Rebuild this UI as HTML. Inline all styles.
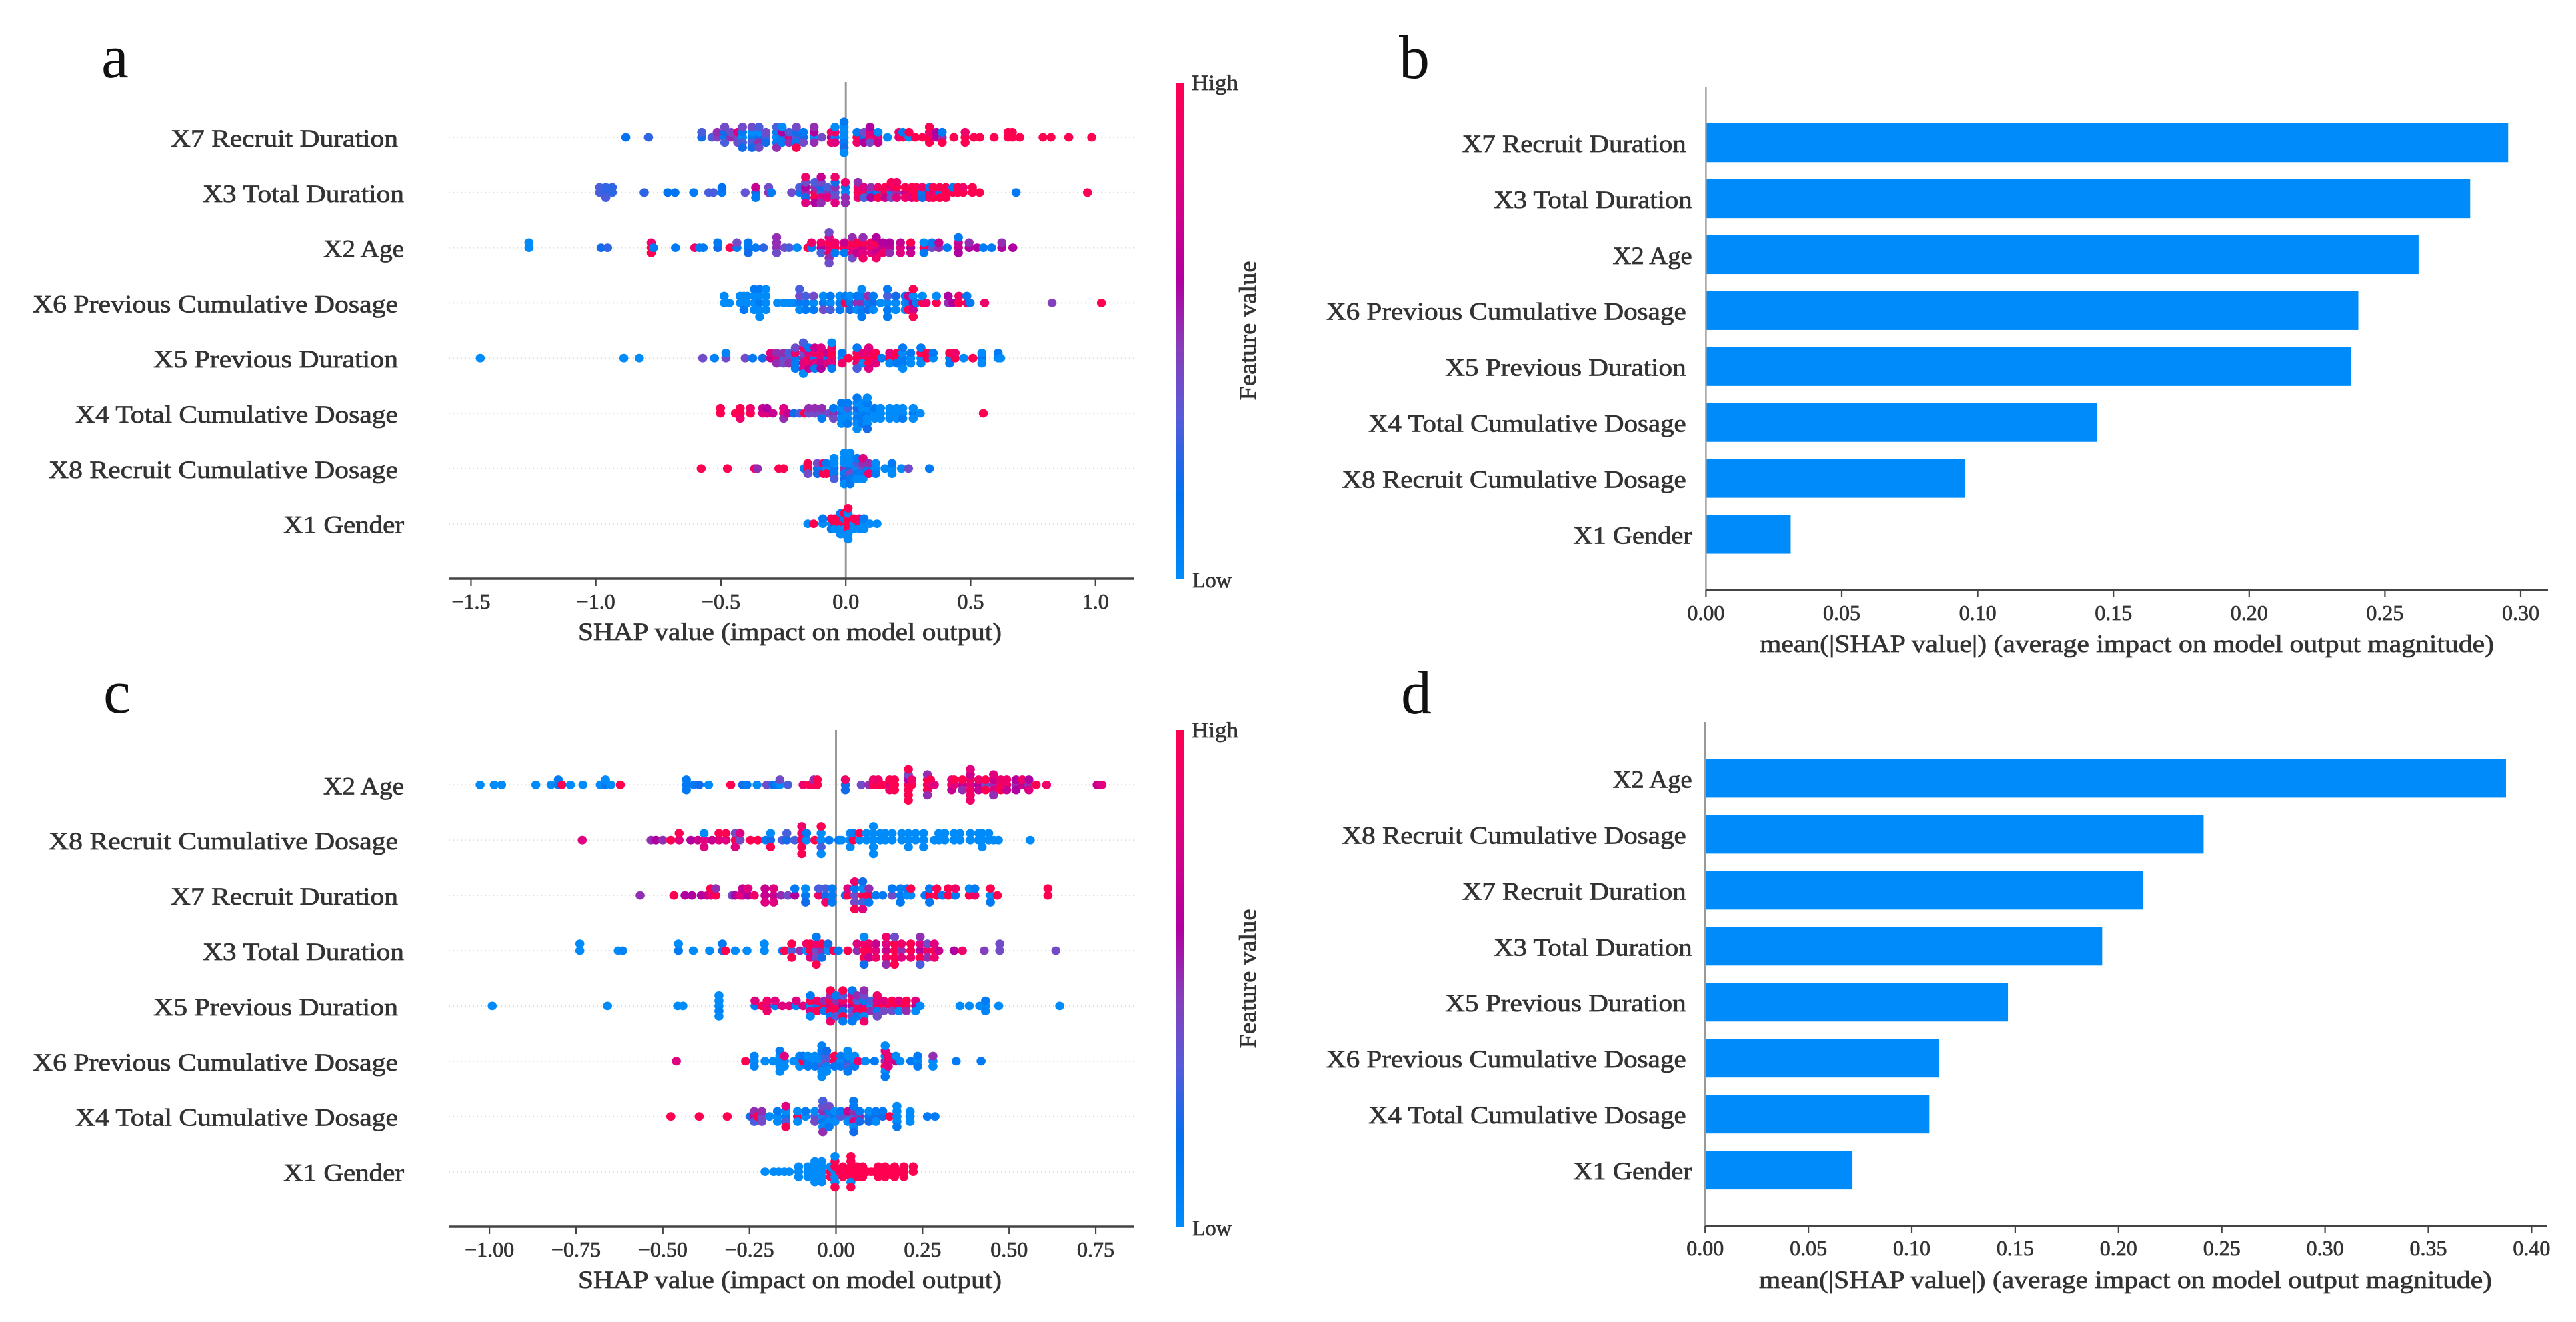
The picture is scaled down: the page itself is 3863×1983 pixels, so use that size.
<!DOCTYPE html>
<html lang="en">
<head>
<meta charset="utf-8">
<title>SHAP summary plots</title>
<style>
html,body{margin:0;padding:0;background:#fff;}
svg{display:block;}
text{font-family:"Liberation Serif",serif;fill:#333;}
.lab{stroke:#333;stroke-width:.75;}
</style>
</head>
<body>
<svg id="figure" xmlns="http://www.w3.org/2000/svg" width="3863" height="1983" viewBox="0 0 3863 1983">
<defs>
<linearGradient id="shapGrad" x1="0" y1="1" x2="0" y2="0">
<stop offset="0" stop-color="#008bfb"/>
<stop offset=".17" stop-color="#0070f0"/>
<stop offset=".33" stop-color="#5a5ad8"/>
<stop offset=".47" stop-color="#8a3cb8"/>
<stop offset=".6" stop-color="#b000a0"/>
<stop offset=".8" stop-color="#e00080"/>
<stop offset="1" stop-color="#ff0051"/>
</linearGradient>
</defs>
</svg>
<script>
// ---------- category labels ----------
const categoriesA = ["X7 Recruit Duration","X3 Total Duration","X2 Age","X6 Previous Cumulative Dosage","X5 Previous Duration","X4 Total Cumulative Dosage","X8 Recruit Cumulative Dosage","X1 Gender"];
const categoriesC = ["X2 Age","X8 Recruit Cumulative Dosage","X7 Recruit Duration","X3 Total Duration","X5 Previous Duration","X6 Previous Cumulative Dosage","X4 Total Cumulative Dosage","X1 Gender"];
// ---------- bar values ----------
const valuesB = [0.2954,0.2814,0.2624,0.2402,0.2376,0.1439,0.0954,0.0312];
const valuesD = [0.3876,0.2412,0.2117,0.1921,0.1465,0.1131,0.1085,0.0713];
// ---------- tick values ----------
const ticksA = [-1.5,-1,-0.5,0,0.5,1];
const tickLabelsA = ["\u22121.5","\u22121.0","\u22120.5","0.0","0.5","1.0"];
const ticksC = [-1,-0.75,-0.5,-0.25,0,0.25,0.5,0.75];
const tickLabelsC = ["\u22121.00","\u22120.75","\u22120.50","\u22120.25","0.00","0.25","0.50","0.75"];
const ticksB = [0,0.05,0.1,0.15,0.2,0.25,0.3];
const tickLabelsB = ["0.00","0.05","0.10","0.15","0.20","0.25","0.30"];
const ticksD = [0,0.05,0.1,0.15,0.2,0.25,0.3,0.35,0.4];
const tickLabelsD = ["0.00","0.05","0.10","0.15","0.20","0.25","0.30","0.35","0.40"];
// ---------- beeswarm series: [shap value, [feature values of points stacked in that bin]] ----------
const swarmA_X7 = [[-.88,[.15]],[-.79,[.25]],[-.577,[.2,.3]],[-.536,[.3]],[-.515,[.45,.5]],[-.485,[.1,.2,.3,.4]],[-.46,[.5,.4]],[-.433,[.4,.8,.4]],[-.414,[0,.1,.3,.4,.2]],[-.376,[.1,0,.3,.4,.2]],[-.348,[.2,0,.5,.3,.4]],[-.32,[.3,.4,.2]],[-.277,[0,.1,.1,.3,.5]],[-.255,[.1,.6,.1,0]],[-.227,[.8,.3,.5]],[-.198,[.3,.2,.1,.4,1]],[-.17,[.2,.1,.4]],[-.127,[0,.6,.5,.5]],[-.096,[.4]],[-.058,[.6,.9,.9]],[-.043,[.1,.9,.8,0]],[-.007,[0,0,.1,0,.2,.1,0]],[.045,[1,.1,.9]],[.073,[.2,.4,.6]],[.097,[.9,.8,.4,.6]],[.129,[.8,0,.7]],[.167,[0]],[.213,[.8,.9]],[.228,[1,.1]],[.253,[0,1]],[.279,[1]],[.307,[1]],[.335,[1,.9,1,1]],[.363,[.6,.6]],[.386,[.5,.1,1]],[.433,[1]],[.478,[1,.9,1]],[.513,[1]],[.537,[1]],[.594,[1]],[.65,[1,1]],[.667,[1,1]],[.697,[1]],[.79,[1]],[.822,[1]],[.893,[1]],[.985,[1]]];
const swarmA_X3 = [[-.985,[.3,.3]],[-.96,[.25,.25,.3]],[-.934,[.25,.25]],[-.807,[.25]],[-.713,[.15]],[-.684,[.15]],[-.609,[.1]],[-.549,[.3]],[-.53,[.3]],[-.496,[.1,.15]],[-.403,[.35]],[-.361,[.2,.7,.1]],[-.309,[.5,.4]],[-.298,[.1]],[-.217,[.4]],[-.185,[.1,.3]],[-.161,[.5,.6,.2,.4,.8,.9]],[-.124,[.9,.5,1,.3,.6]],[-.099,[.3,.2,.8,.4,.5,.7]],[-.073,[.5,.3,.8]],[-.043,[.3,.5,.4,.2,.8,.9]],[-.002,[0,.1,.5,.9,.5]],[.049,[1,.9,.9,.5]],[.073,[1,.8,.3]],[.101,[.2,.5,.6]],[.129,[.1,.9,1]],[.157,[1,1,.7]],[.182,[.1,.8,.4,1]],[.204,[.5,1,.8,.9]],[.238,[.7,1,.9]],[.264,[1,1,.8]],[.283,[1,1,1]],[.307,[.1,.9,.2]],[.335,[1,.1,.9]],[.35,[.8,1,1]],[.376,[.1,1,1]],[.401,[1,1,1]],[.429,[1,.1]],[.448,[1,1]],[.47,[1,.9]],[.507,[1,1]],[.536,[1]],[.682,[.1]],[.968,[1]]];
const swarmA_X2 = [[-1.268,[0,0]],[-.979,[.2]],[-.953,[.25]],[-.779,[1,.9,1]],[-.77,[.1]],[-.682,[.1]],[-.605,[.9]],[-.586,[.1]],[-.571,[.1]],[-.513,[.2,.1]],[-.464,[1]],[-.436,[.1,.4]],[-.391,[.1,.1,.2]],[-.361,[.1]],[-.33,[.25]],[-.277,[.5,.5,.4,.5]],[-.245,[.4]],[-.227,[.3]],[-.195,[0]],[-.152,[1]],[-.137,[.1,.9]],[-.099,[.6,.9,.3]],[-.067,[.8,1,.9,.8,.5,.4,.4]],[-.043,[1,.9,.1]],[-.006,[1,.7,.1]],[.026,[.9,1,.8,.5,.4]],[.045,[.9,1,.7]],[.069,[.7,1,.8,.5,.9]],[.101,[1,.9,.8]],[.122,[.8,1,.7,.6,.9]],[.148,[.7,.6,.9]],[.176,[.7,.6,.5]],[.219,[.8,.7,.8]],[.26,[.6,1,.7]],[.313,[1,0,.1]],[.345,[.4,.1]],[.373,[.5,.7]],[.406,[.1]],[.451,[.7,.7,.6,.1]],[.494,[.6,.5]],[.526,[.6]],[.551,[.1]],[.584,[.1]],[.625,[.6,.5]],[.669,[.6]]];
const swarmA_X6 = [[-.487,[0,0]],[-.466,[0]],[-.423,[0,0]],[-.408,[0,0,.1]],[-.395,[0,0]],[-.367,[0,0,0,.1]],[-.345,[.1,0,0,.1,0]],[-.32,[0,0,0,0]],[-.273,[0]],[-.249,[0]],[-.227,[0]],[-.208,[0]],[-.185,[.1,.4,0,.3]],[-.161,[.1,.3,.1]],[-.129,[0,.4,.1]],[-.09,[.1,0,.4]],[-.062,[0,.1,.3]],[-.024,[.1,0,.1]],[-.002,[1,.1]],[.017,[.1,0,.2]],[.045,[.5,.1,0]],[.064,[.5,.1,.1,0,.1]],[.088,[.1,.5,.2]],[.11,[.2,.1,0]],[.139,[0]],[.167,[0,.3,.1,.1,.1]],[.2,[0,.2,0]],[.238,[0,.1,0]],[.251,[.1,.7,1]],[.27,[.6,0,.7,1,1]],[.283,[.1]],[.307,[1,0]],[.322,[.9]],[.363,[1,0]],[.41,[.5,.6]],[.429,[.6]],[.453,[1,.9]],[.485,[.9,.1]],[.498,[.1]],[.556,[.9]],[.826,[.45]],[1.024,[1]]];
const swarmA_X5 = [[-1.463,[0]],[-.888,[0]],[-.826,[0]],[-.573,[.4]],[-.526,[.05]],[-.48,[.4,.05]],[-.403,[.4]],[-.373,[.1]],[-.333,[.2]],[-.301,[.7,.8]],[-.277,[.8,.5,.5]],[-.249,[.3,.5,.4]],[-.227,[.4,.3,.5]],[-.202,[.1,.9,.1,.4,.1]],[-.17,[.5,.4,.8,.9,.8,.3,0]],[-.148,[1,.8,.9,.1,.7]],[-.124,[.1,.9,.8,.7,.1]],[-.099,[.8,.9,.7,.8,.6]],[-.073,[.1,.7,.8]],[-.056,[.9,1,.8,.9,.1,0]],[-.015,[0,.1,.9]],[.011,[1]],[.045,[1,1,.9,.1,.3]],[.069,[1,.8,0]],[.092,[1,.9,1,.8,.8]],[.12,[1,1,.8]],[.144,[.1]],[.176,[1,.8,0]],[.204,[1,1,.1]],[.228,[.1,0,.1,.1,0]],[.26,[0,.1,0]],[.301,[0,1,0,.1]],[.326,[1,1]],[.35,[0,.1]],[.416,[.1,1,.1]],[.438,[1,.9]],[.472,[0]],[.509,[1]],[.545,[.1,0,0]],[.61,[0,.1]],[.62,[0]]];
const swarmA_X4 = [[-.502,[1,1]],[-.442,[1]],[-.423,[1,1,.9]],[-.382,[1,.9]],[-.333,[.8,.7]],[-.316,[.8,.6]],[-.292,[.7]],[-.249,[.9,.8,.5]],[-.232,[.7]],[-.208,[.2]],[-.185,[.3]],[-.165,[1]],[-.148,[.4,.5]],[-.124,[.4,.5]],[-.096,[.4,.5,.1]],[-.067,[.4]],[-.049,[.5,.1,.4]],[-.017,[.1,0,0,.1,0]],[.007,[0,.3,0,.1,.1]],[.045,[0,.2,.1,0,0,.1,0]],[.067,[.1,0,.1,0,.1]],[.086,[.1,0,0,.1,0,0,.2]],[.116,[0,.1,0]],[.139,[0,0,0]],[.176,[0,0,0]],[.204,[0,0,0]],[.228,[0,0,.1]],[.27,[.1,0,0]],[.298,[0]],[.551,[1]]];
const swarmA_X8 = [[-.579,[1]],[-.474,[1]],[-.365,[.9]],[-.354,[.5]],[-.268,[1]],[-.249,[1]],[-.167,[.05]],[-.152,[1,1,.4]],[-.114,[.1,.4,.2]],[-.09,[.1,.9,1]],[-.077,[0,.1,1]],[-.047,[.1,0,.1,0,.3]],[-.006,[.5,0,.1,0,.2,0,0]],[.017,[.2,0,.4,0,.1,0,.1]],[.045,[0,.3,.1,.1,0]],[.069,[.4,.5,.1,.8,0]],[.092,[.1,.5,.9]],[.12,[0,0,.1]],[.157,[0]],[.185,[0,.1,0]],[.223,[0]],[.251,[.4]],[.335,[.1]]];
const swarmA_X1 = [[-.152,[0]],[-.129,[1]],[-.092,[0,.1]],[-.058,[0,1,.1]],[-.043,[1,1,0]],[-.021,[1,1,0,.1,0]],[-.006,[1,.1,0,1,0]],[.009,[1,1,1,0,0,1,0]],[.032,[0,1,0]],[.054,[1,.9,0]],[.073,[0,.1,0]],[.096,[0]],[.125,[0]]];
const swarmC_X2 = [[-1.027,[0]],[-.986,[0]],[-.965,[0]],[-.866,[0]],[-.822,[0]],[-.801,[.1,.1]],[-.791,[1]],[-.766,[0]],[-.73,[0]],[-.68,[0]],[-.665,[.1,0]],[-.649,[0]],[-.622,[1]],[-.432,[.1,.1,.1]],[-.411,[.1]],[-.395,[.2]],[-.368,[0]],[-.304,[1]],[-.27,[.2]],[-.257,[.1]],[-.228,[0]],[-.2,[.4]],[-.182,[.2]],[-.172,[.1]],[-.162,[0,.4]],[-.139,[.3]],[-.095,[.9]],[-.077,[1]],[-.064,[.9,.5]],[-.054,[1,1]],[.027,[.2,.9,.2]],[.073,[.4]],[.095,[.5]],[.108,[1,.9]],[.122,[1,.9]],[.135,[1]],[.155,[.8,1,.9]],[.169,[1,1,1]],[.209,[1,.6,1,.4,1,1,1]],[.219,[1,.9]],[.264,[1,1,1,.5,.5]],[.273,[.9,1]],[.284,[.8]],[.334,[1,.8,.7]],[.341,[.8,1]],[.365,[.7,1,.5]],[.388,[.8,.9,.9,.7,.9,.8,.9]],[.412,[.6,.9,.7]],[.432,[.4,1,1]],[.455,[.5,.7,.8,.8,.5]],[.476,[.9,.9,1]],[.493,[.9,.9,.7]],[.52,[.5,.6,.6]],[.538,[.7,.9]],[.557,[.5,.6,.8]],[.578,[1]],[.608,[.9]],[.754,[.7]],[.768,[.8]]];
const swarmC_X8 = [[-.732,[.8]],[-.534,[.5]],[-.52,[.6]],[-.5,[.5]],[-.477,[1]],[-.453,[.8,1]],[-.419,[.6]],[-.399,[.7]],[-.381,[.8,0,.8]],[-.358,[.7]],[-.338,[.8,1]],[-.318,[.8,1]],[-.291,[1,.4,.8]],[-.277,[.4,.8]],[-.247,[1]],[-.226,[1]],[-.203,[.1]],[-.189,[.2,0,1]],[-.155,[.3]],[-.142,[.2,.3]],[-.119,[.3]],[-.099,[1,.9,1,.9,1]],[-.085,[0,.1]],[-.061,[1]],[-.043,[0,0,.3,1,0]],[-.02,[.1]],[.008,[.1]],[.016,[0]],[.041,[0,0,0]],[.05,[1,.1]],[.068,[0,1]],[.088,[0,0]],[.108,[0,0,0,0,0]],[.128,[0,0]],[.142,[0,0]],[.162,[0,0]],[.19,[0,0]],[.209,[0,0,0]],[.23,[0,0]],[.253,[0,0,0]],[.284,[0]],[.297,[0,0]],[.314,[0,0]],[.341,[0,0]],[.358,[0,0]],[.388,[0,0]],[.412,[0,0]],[.422,[0,0,0]],[.441,[0,0]],[.455,[0]],[.469,[0]],[.561,[0]]];
const swarmC_X7 = [[-.565,[.5]],[-.468,[1]],[-.436,[.6]],[-.416,[.6]],[-.389,[.6]],[-.372,[.7]],[-.362,[.8,1]],[-.347,[1,.5]],[-.3,[.4]],[-.291,[.6]],[-.277,[.8]],[-.27,[.8,.7]],[-.254,[.6,.8]],[-.236,[.9]],[-.205,[.7,.7,.8]],[-.18,[.7,.8,.8]],[-.159,[.5]],[-.139,[.4]],[-.119,[.6,.1]],[-.088,[.1,0,.2]],[-.05,[.9,.3]],[-.03,[.2,.3,.9]],[-.011,[.1,.1,.1]],[.027,[.2]],[.034,[1,.8]],[.054,[.4,.1,.4,.9,1]],[.077,[1,0,.3,.2,.8]],[.095,[1,.5,.1]],[.115,[.1]],[.135,[.1]],[.162,[.4,.1]],[.186,[.1,.1,.1]],[.205,[0,.1]],[.216,[0,1]],[.257,[.1]],[.27,[1,.1,.1]],[.291,[1,1]],[.307,[.1]],[.324,[1,1]],[.345,[.1,.9]],[.385,[1,0]],[.401,[.9,.1]],[.446,[0,1,.1]],[.466,[1]],[.612,[1,1]]];
const swarmC_X3 = [[-.739,[0,0]],[-.628,[0]],[-.615,[.05]],[-.455,[.1,0]],[-.412,[0]],[-.365,[0]],[-.328,[.2,.1]],[-.319,[1]],[-.291,[0]],[-.257,[0]],[-.207,[0,0]],[-.155,[0]],[-.148,[1]],[-.128,[.3,1,1]],[-.104,[.5]],[-.085,[0,.9]],[-.074,[1,1,.8]],[-.057,[.4,.9,.4,.1,1]],[-.041,[.5,1,.2]],[-.023,[0,.2]],[-.007,[1]],[.007,[.1]],[.034,[1]],[.061,[.5,.8]],[.081,[1,.9,1,0,.2]],[.095,[1,.9,.7]],[.115,[.8,.7,.9]],[.145,[.7,.8,.9,.9,.5]],[.169,[1,1,1,.4,1]],[.189,[.5,.9,.8]],[.216,[1,1,.9]],[.243,[.6,.8,1,.5,.3]],[.264,[.9,.4,.5]],[.284,[1,.8,.9]],[.297,[.7]],[.341,[.6]],[.365,[.9]],[.428,[.45]],[.473,[.4,.4]],[.635,[.4]]];
const swarmC_X5 = [[-.992,[0]],[-.659,[0]],[-.457,[0]],[-.442,[0]],[-.338,[0,0,.05,0,0]],[-.234,[.1,.8]],[-.214,[1]],[-.199,[.8,.9,.9]],[-.176,[.1,.8]],[-.155,[.8]],[-.135,[.8]],[-.115,[.05,.8]],[-.095,[.8]],[-.074,[0,1,.8,.1,0]],[-.054,[.2,.9,1]],[-.034,[1,.5,.1]],[-.016,[.8,1,1,.5,.1,1,.9]],[0,[1,.5,1,.1,.3]],[.02,[.6,.9,.2,.3,1,1,.1]],[.047,[.6,1,.3,.8,.4,.1,.1]],[.061,[1,.3,.9,.5,.1]],[.081,[.8,.1,1,.4,0,.5,.9]],[.101,[0,.3,.5]],[.119,[1,.8,.1,.9,.4]],[.138,[1,.8,.4]],[.162,[.9,1,.4]],[.182,[1,.8,0]],[.203,[1,1,.5]],[.23,[.6,.8,0]],[.243,[0]],[.358,[0]],[.385,[0]],[.415,[0]],[.432,[0,.1,.05]],[.47,[0]],[.646,[0]]];
const swarmC_X6 = [[-.461,[.8]],[-.261,[1]],[-.236,[0,.05,.05]],[-.205,[0]],[-.182,[0]],[-.162,[0,0,0,.1,0]],[-.149,[0,.8,0]],[-.122,[0]],[-.105,[0,.05,0]],[-.095,[1,.1]],[-.081,[.1,0,.1]],[-.061,[0,0,.1]],[-.041,[0,.05,.3,.1,0,.05,0]],[-.027,[.4,.3,.05,.2,0]],[-.004,[.9,1,.1]],[.014,[0,.1,.1]],[.034,[.2,0,.3,0,.1]],[.054,[0,0,.1]],[.064,[.9]],[.085,[0]],[.111,[.1]],[.142,[.5,.1,1,.8,0,0,.1]],[.151,[.8,.9,.8]],[.173,[.7,0]],[.185,[0]],[.216,[.1]],[.236,[0,.1,.1]],[.28,[0,.5,0]],[.347,[.1]],[.419,[.1]]];
const swarmC_X4 = [[-.477,[1]],[-.395,[1]],[-.314,[1]],[-.247,[.2]],[-.236,[.7,.5,.3]],[-.227,[1]],[-.214,[.4,.5,.4]],[-.192,[0]],[-.169,[0,.1,0]],[-.145,[.1,0,.3,.8,1]],[-.111,[1,0,0]],[-.088,[0,.1]],[-.061,[.3,0,.4]],[-.038,[0,.5,.1,.4,0,.3,.5]],[-.02,[.3,.1,0,.4,.1]],[-.003,[.1,0,0]],[.014,[.3,.1]],[.034,[.4,.7,0]],[.051,[.3,.5,.8,.1,0,.1,.2]],[.068,[.5,.1,.2]],[.095,[.1,0,.2]],[.115,[.2,.1,0]],[.135,[.2,.1]],[.155,[1]],[.176,[0,0,0,0,.1]],[.214,[0,0,0]],[.264,[.1]],[.286,[.1]]];
const swarmC_X1 = [[-.205,[0]],[-.18,[0]],[-.165,[0]],[-.149,[0]],[-.135,[0]],[-.108,[0,0,0]],[-.081,[0,0,0]],[-.061,[0,0,0,0,0]],[-.041,[0,0,0,0,0]],[-.016,[1,0,1]],[-.003,[0,1,0,1,0,0,1]],[.01,[1]],[.02,[1,1,1]],[.03,[1]],[.043,[1,1,1,1,0,1,1]],[.052,[1]],[.061,[1,1,1]],[.077,[1,1,1]],[.09,[1]],[.101,[1]],[.11,[1]],[.122,[1,1,1]],[.142,[1,1,1]],[.155,[1]],[.169,[1,1,1]],[.183,[1]],[.196,[1,1,1]],[.223,[1,1]]];
const rowsA = [swarmA_X7,swarmA_X3,swarmA_X2,swarmA_X6,swarmA_X5,swarmA_X4,swarmA_X8,swarmA_X1];
const rowsC = [swarmC_X2,swarmC_X8,swarmC_X7,swarmC_X3,swarmC_X5,swarmC_X6,swarmC_X4,swarmC_X1];

const svg = document.getElementById('figure');
const NS = 'http://www.w3.org/2000/svg';
const labelWidths = {"X7 Recruit Duration":341,"X3 Total Duration":302,"X2 Age":121,"X6 Previous Cumulative Dosage":548,"X5 Previous Duration":367,"X4 Total Cumulative Dosage":484,"X8 Recruit Cumulative Dosage":524,"X1 Gender":181};
const wideEnd = {"X3 Total Duration":1,"X2 Age":1,"X1 Gender":1};
const colorStops = [[0,[0,139,251]],[.17,[0,112,240]],[.33,[90,90,216]],[.47,[138,60,184]],[.6,[176,0,160]],[.8,[224,0,128]],[1,[255,0,81]]];

function shapColor(v){
  for(let i=1;i<colorStops.length;i++){
    if(v<=colorStops[i][0]){
      const a=colorStops[i-1],b=colorStops[i],t=(v-a[0])/(b[0]-a[0]);
      return 'rgb('+a[1].map((c,j)=>Math.round(c+(b[1][j]-c)*t)).join(',')+')';
    }
  }
  return 'rgb(255,0,81)';
}
function make(tag,attrs,parent,txt){
  const el=document.createElementNS(NS,tag);
  for(const k in attrs) el.setAttribute(k,attrs[k]);
  if(txt!==undefined) el.textContent=txt;
  parent.appendChild(el);
  return el;
}
function panelLetter(parent,ch,x,y){
  const el=make('text',{x:x,y:y,'font-size':92,style:'fill:#111'},parent,ch);
  
  
}
function featureLabel(parent,name,endShort,y,scale){
  const w=labelWidths[name]*scale;
  const end=endShort+(wideEnd[name]?9:0);
  const el=make('text',{x:end-w,y:y,'font-size':37,textLength:w,lengthAdjust:'spacingAndGlyphs','class':'lab'},parent,name);
  
  
}
function xAxis(parent,x0,x1,yBase,xScale,ticks,labels,tickTextY,title,titleX,titleW,titleY){
  const axis=make('line',{x1:x0,x2:x1,y1:yBase,y2:yBase,stroke:'#444','stroke-width':3.4},parent);
  
  
  ticks.forEach((t,i)=>{
    const m=make('line',{x1:xScale(t),x2:xScale(t),y1:yBase,y2:yBase+11,stroke:'#444','stroke-width':2.2},parent);
    
    
    const tx=make('text',{x:xScale(t),y:tickTextY,'font-size':32,'text-anchor':'middle','class':'lab'},parent,labels[i]);
    
    
  });
  const ti=make('text',{x:titleX,y:titleY,'font-size':37,textLength:titleW,lengthAdjust:'spacingAndGlyphs','class':'lab'},parent,title);
  
  
}
function colorbar(parent,top,bottom,highY,lowY,titleY){
  const r=make('rect',{x:1763,y:top,width:13,height:bottom-top,fill:'url(#shapGrad)'},parent);
  
  
  const hi=make('text',{x:1787,y:highY,'font-size':33,textLength:70,lengthAdjust:'spacingAndGlyphs','class':'lab'},parent,'High');
  
  
  const lo=make('text',{x:1788,y:lowY,'font-size':33,textLength:59,lengthAdjust:'spacingAndGlyphs','class':'lab'},parent,'Low');
  
  
  const ft=make('text',{x:0,y:0,'font-size':36,textLength:209,lengthAdjust:'spacingAndGlyphs','text-anchor':'middle',transform:'translate(1883 '+titleY+') rotate(-90)','class':'lab'},parent,'Feature value');
  
  
}
function beeswarmPanel(name,letter,lx,ly,categories,rows,zero,unit,firstY,pitch,yBase,zeroTop,ticks,labels,tickTextY,titleY,cbLow,cbHigh,cbTitleY){
  const g=make('g',{},svg);
  
  
  const xScale=v=>zero+v*unit;
  const yScale=i=>firstY+i*pitch;
  panelLetter(g,letter,lx,ly);
  categories.forEach((c,i)=>{
    const grid=make('line',{x1:673,x2:1700,y1:yScale(i),y2:yScale(i),stroke:'#dcdcdc','stroke-width':2,'stroke-dasharray':'2 4'},g);
    
    
  });
  const zl=make('line',{x1:zero,x2:zero,y1:zeroTop,y2:yBase,stroke:'#999','stroke-width':3},g);
  
  
  rows.forEach((row,i)=>{
    featureLabel(g,categories[i],597,yScale(i)+14,1);
    const maxCount=Math.max(...row.map(col=>col[1].length));
    const maxLane=Math.ceil((maxCount-1)/2);
    const gap=31/(maxLane+1);
    row.forEach(col=>{
      col[1].forEach((fv,j)=>{
        const lane=Math.ceil(j/2)*(j%2?-1:1);
        const dot=make('ellipse',{cx:xScale(col[0]),cy:yScale(i)+lane*gap,rx:6.8,ry:6.4,fill:shapColor(fv)},g);
        
        
      });
    });
  });
  xAxis(g,673,1700,yBase,xScale,ticks,labels,tickTextY,'SHAP value (impact on model output)',867,635,titleY);
  colorbar(g,cbHigh,cbLow,cbHigh+11,cbLow+13,cbTitleY);
}
function barPanel(name,letter,lx,ly,categories,values,zero,unit,firstY,pitch,barH,yBase,axisTop,axisEnd,ticks,labels,tickTextY,titleX,titleW,titleY){
  const g=make('g',{},svg);
  
  
  const xScale=v=>zero+v*unit;
  const yScale=i=>firstY+i*pitch;
  panelLetter(g,letter,lx,ly);
  values.forEach((v,i)=>{
    const b=make('rect',{x:zero,y:yScale(i)-barH/2,width:xScale(v)-zero,height:barH,fill:'#008bfb'},g);
    
    
    featureLabel(g,categories[i],2528.7,yScale(i)+14,.985);
  });
  const yl=make('line',{x1:zero,x2:zero,y1:axisTop,y2:yBase,stroke:'#999','stroke-width':2.4},g);
  
  
  xAxis(g,zero,axisEnd,yBase,xScale,ticks,labels,tickTextY,'mean(|SHAP value|) (average impact on model output magnitude)',titleX,titleW,titleY);
}
beeswarmPanel('panel-a-beeswarm','a',152,116,categoriesA,rowsA,1268.2,374.5,206,82.8,868,123,ticksA,tickLabelsA,913,960,868,124,496);
beeswarmPanel('panel-c-beeswarm','c',155,1069,categoriesC,rowsC,1253.5,519.4,1177.3,82.9,1840,1095,ticksC,tickLabelsC,1885,1932,1840,1095,1468);
barPanel('panel-b-bars','b',2098,117,categoriesA,valuesB,2558.4,4072,214,83.9,58.5,885,131,3821,ticksB,tickLabelsB,930,2639,1101,978);
barPanel('panel-d-bars','d',2101,1070,categoriesC,valuesD,2557.2,3098,1167.4,83.96,58,1839,1083,3819,ticksD,tickLabelsD,1883,2638,1099,1932);
</script>
</body>
</html>
